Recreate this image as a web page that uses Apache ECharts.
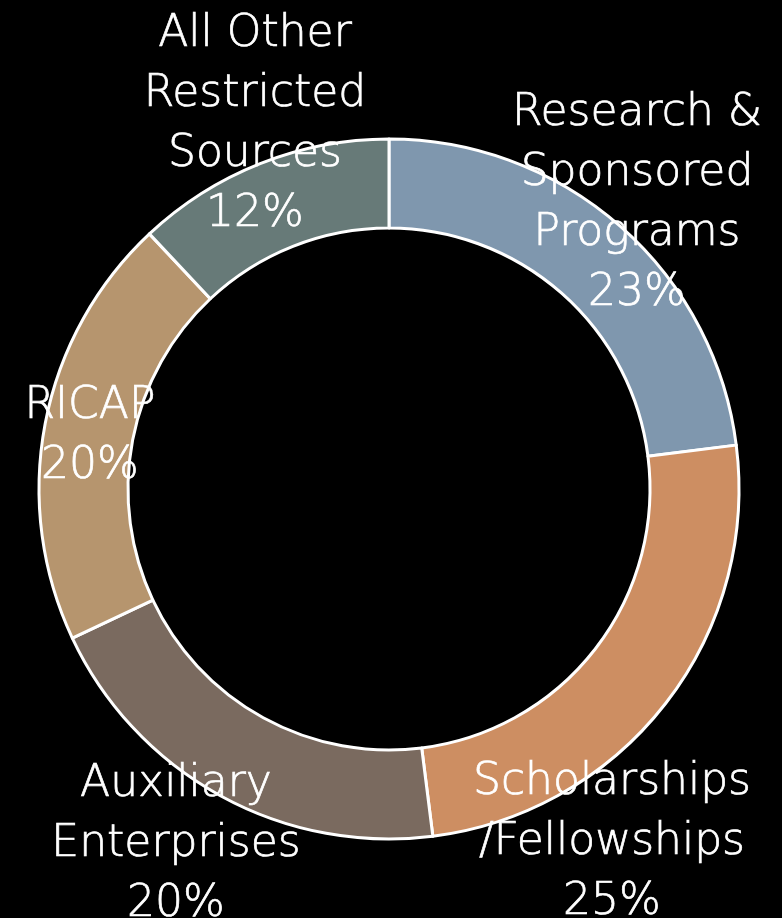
<!DOCTYPE html>
<html>
<head>
<meta charset="utf-8">
<style>
  html, body { margin: 0; padding: 0; background: #000; }
  #chart { width: 782px; height: 918px; }
</style>
<script src="https://cdn.jsdelivr.net/npm/echarts@6/dist/echarts.min.js"></script>
</head>
<body>
<div id="chart"></div>
<script>
// slice order goes clockwise from 12 o'clock
const categories = [
  'Research &\nSponsored\nPrograms',
  'Scholarships\n/Fellowships',
  'Auxiliary\nEnterprises',
  'RICAP',
  'All Other\nRestricted\nSources'
];
const shares = [23, 25, 20, 20, 12];
const colors = ['#7f97ae', '#cd8e62', '#7a6a5f', '#b6956e', '#677a78'];

// where each label block is centred
const labelPos = [
  [637, 204],
  [612, 843],
  [176, 845],
  [90, 437],
  [255, 125]
];

const chart = echarts.init(document.getElementById('chart'));

chart.setOption({
  backgroundColor: '#000',
  animation: false,
  series: [{
    type: 'pie',
    center: [389, 489],
    radius: [261, 350],
    startAngle: 90,
    clockwise: true,
    data: categories.map((name, i) => ({
      name: name,
      value: shares[i],
      itemStyle: { color: colors[i] }
    })),
    itemStyle: { borderColor: '#fff', borderWidth: 3 },
    label: {
      show: true,
      position: 'inside',
      formatter: '{b}\n{d}%',
      color: '#fff',
      fontFamily: 'DejaVu Sans',
      fontWeight: 200,
      fontSize: 44,
      lineHeight: 60,
      align: 'center',
      textBorderColor: '#fff',
      textBorderWidth: 0.7
    },
    labelLine: { show: false },
    labelLayout: function (params) {
      const p = labelPos[params.dataIndex];
      return { x: p[0], y: p[1], align: 'center', verticalAlign: 'middle' };
    },
    emphasis: { disabled: true }
  }]
});
</script>
</body>
</html>
